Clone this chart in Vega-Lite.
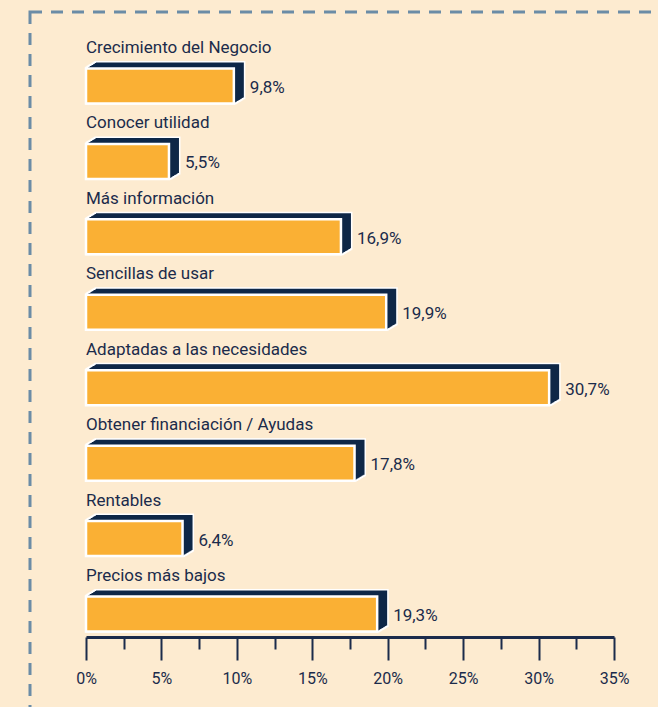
{
  "$schema": "https://vega.github.io/schema/vega-lite/v6.json",
  "width": 631,
  "height": 698,
  "autosize": {"type": "none"},
  "padding": {"left": 30, "top": 12, "right": -3, "bottom": -3},
  "background": "#FDEBD0",
  "config": {
    "view": {"stroke": "#6B8CA6", "strokeWidth": 3, "strokeDash": [12, 9]},
    "font": "Roboto, sans-serif"
  },
  "data": {
    "values": [
      {"cat": "Crecimiento del Negocio", "value": 9.8},
      {"cat": "Conocer utilidad", "value": 5.5},
      {"cat": "Más información", "value": 16.9},
      {"cat": "Sencillas de usar", "value": 19.9},
      {"cat": "Adaptadas a las necesidades", "value": 30.7},
      {"cat": "Obtener financiación / Ayudas", "value": 17.8},
      {"cat": "Rentables", "value": 6.4},
      {"cat": "Precios más bajos", "value": 19.3}
    ]
  },
  "transform": [
    {"calculate": "replace(format(datum.value, '.1f'), '.', ',') + '%'", "as": "label"}
  ],
  "encoding": {
    "y": {
      "field": "cat",
      "type": "nominal",
      "sort": null,
      "scale": {"type": "point", "range": [74, 602], "padding": 0},
      "axis": null
    },
    "x": {
      "field": "value",
      "type": "quantitative",
      "scale": {"domain": [0, 35], "range": [56, 584], "nice": false, "zero": true},
      "axis": {
        "values": [0, 2.5, 5, 7.5, 10, 12.5, 15, 17.5, 20, 22.5, 25, 27.5, 30, 32.5, 35],
        "labelExpr": "datum.value % 5 === 0 ? datum.value + '%' : ''",
        "tickSize": {"condition": {"test": "datum.value % 5 === 0", "value": 23}, "value": 12},
        "tickColor": "#1B2B4B",
        "tickWidth": 2,
        "domainColor": "#1B2B4B",
        "domainWidth": 3,
        "labelColor": "#1B2B4B",
        "labelFontSize": 16,
        "labelPadding": 10,
        "labelFlush": false,
        "labelOverlap": false,
        "offset": -73,
        "grid": false,
        "title": null
      }
    }
  },
  "layer": [
    {"mark": {"type": "bar", "size": 35, "fill": "white", "stroke": "white", "strokeWidth": 3, "xOffset": 1, "yOffset": -0.6}},
    {"mark": {"type": "bar", "size": 35, "fill": "white", "stroke": "white", "strokeWidth": 3, "xOffset": 2, "yOffset": -1.2}},
    {"mark": {"type": "bar", "size": 35, "fill": "white", "stroke": "white", "strokeWidth": 3, "xOffset": 3, "yOffset": -1.8}},
    {"mark": {"type": "bar", "size": 35, "fill": "white", "stroke": "white", "strokeWidth": 3, "xOffset": 4, "yOffset": -2.4}},
    {"mark": {"type": "bar", "size": 35, "fill": "white", "stroke": "white", "strokeWidth": 3, "xOffset": 5, "yOffset": -3}},
    {"mark": {"type": "bar", "size": 35, "fill": "white", "stroke": "white", "strokeWidth": 3, "xOffset": 6, "yOffset": -3.6}},
    {"mark": {"type": "bar", "size": 35, "fill": "white", "stroke": "white", "strokeWidth": 3, "xOffset": 7, "yOffset": -4.2}},
    {"mark": {"type": "bar", "size": 35, "fill": "white", "stroke": "white", "strokeWidth": 3, "xOffset": 8, "yOffset": -4.8}},
    {"mark": {"type": "bar", "size": 35, "fill": "white", "stroke": "white", "strokeWidth": 3, "xOffset": 9, "yOffset": -5.4}},
    {"mark": {"type": "bar", "size": 35, "fill": "white", "stroke": "white", "strokeWidth": 3, "xOffset": 10, "yOffset": -6}},
    {"mark": {"type": "bar", "size": 35, "fill": "#0E2747", "xOffset": 1, "yOffset": -0.6}},
    {"mark": {"type": "bar", "size": 35, "fill": "#0E2747", "xOffset": 2, "yOffset": -1.2}},
    {"mark": {"type": "bar", "size": 35, "fill": "#0E2747", "xOffset": 3, "yOffset": -1.8}},
    {"mark": {"type": "bar", "size": 35, "fill": "#0E2747", "xOffset": 4, "yOffset": -2.4}},
    {"mark": {"type": "bar", "size": 35, "fill": "#0E2747", "xOffset": 5, "yOffset": -3}},
    {"mark": {"type": "bar", "size": 35, "fill": "#0E2747", "xOffset": 6, "yOffset": -3.6}},
    {"mark": {"type": "bar", "size": 35, "fill": "#0E2747", "xOffset": 7, "yOffset": -4.2}},
    {"mark": {"type": "bar", "size": 35, "fill": "#0E2747", "xOffset": 8, "yOffset": -4.8}},
    {"mark": {"type": "bar", "size": 35, "fill": "#0E2747", "xOffset": 9, "yOffset": -5.4}},
    {"mark": {"type": "bar", "size": 35, "fill": "#0E2747", "xOffset": 10, "yOffset": -6}},
    {"mark": {"type": "bar", "size": 35, "fill": "#FAB034", "stroke": "white", "strokeWidth": 2.5}},
    {
      "mark": {"type": "text", "align": "left", "baseline": "middle", "yOffset": -38, "fontSize": 17, "color": "#1B2B4B"},
      "encoding": {"x": {"datum": 0, "type": "quantitative"}, "text": {"field": "cat"}}
    },
    {
      "mark": {"type": "text", "align": "left", "baseline": "middle", "dx": 16, "yOffset": 2, "fontSize": 17, "color": "#1B2B4B"},
      "encoding": {"text": {"field": "label"}}
    }
  ]
}
